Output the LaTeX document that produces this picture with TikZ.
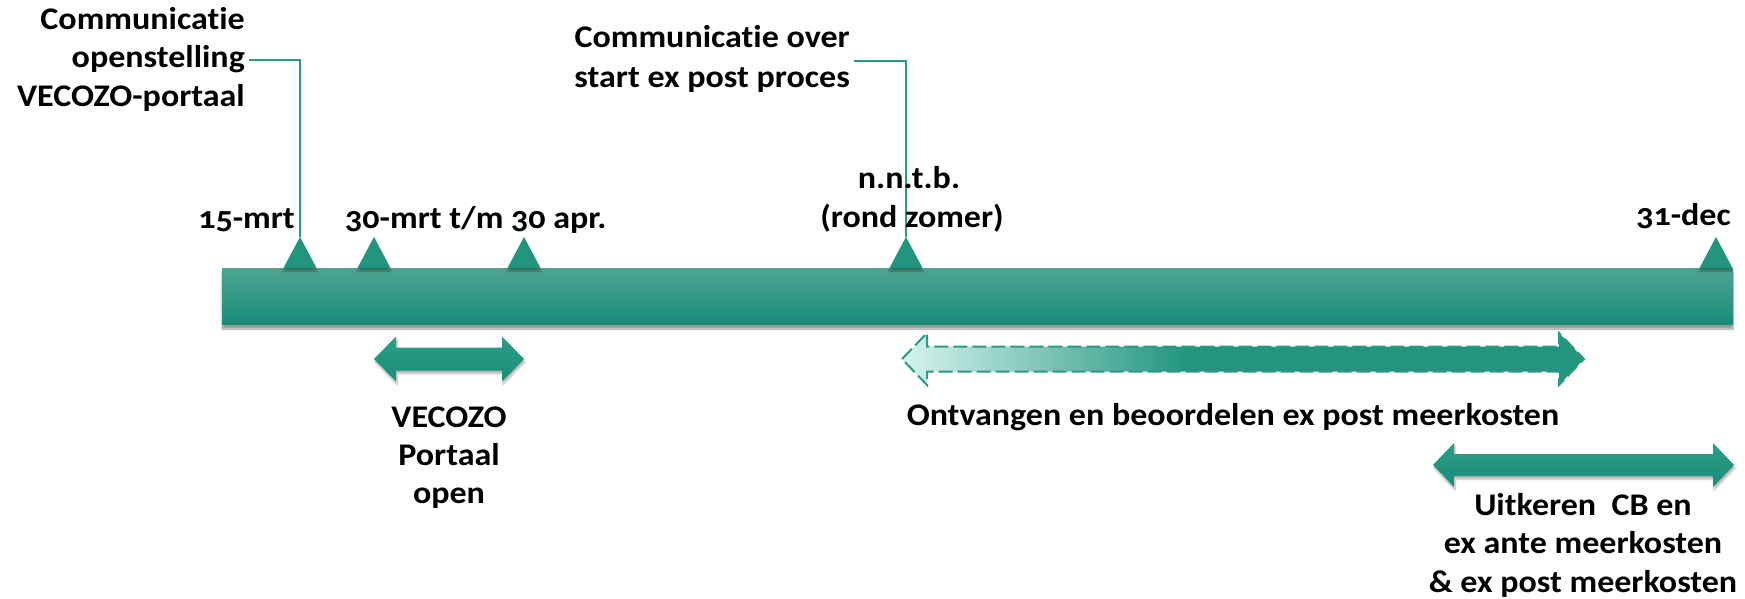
\documentclass[tikz,border=0pt]{standalone}
\usepackage{fontspec}
\setmainfont{Carlito}[Numbers=OldStyle, FakeStretch=1.08, Ligatures=NoCommon]
\usetikzlibrary{shadows.blur,calc}
\definecolor{tealmain}{HTML}{1A9682}
\definecolor{teallight}{HTML}{4FA493}
\definecolor{tealdark}{HTML}{178D79}
\definecolor{fadelight}{HTML}{D6F3EE}
\definecolor{arrowteal}{HTML}{22957F}
\definecolor{arrowtop}{HTML}{2B9D89}
\definecolor{arrowbot}{HTML}{1A8E7A}
\definecolor{linecol}{HTML}{2A9A86}
\pgfdeclarehorizontalshading{fadeR}{100bp}{color(0bp)=(fadelight); color(25bp)=(fadelight); color(46bp)=(arrowteal); color(100bp)=(arrowteal)}
\newcommand\mktri[2]{%
  \fill[tri] (#2-16.5,268) -- (#2,237) -- (#2+16.5,268) -- cycle;
  \coordinate (#1) at (#2,237);}
% #1 style, #2 x1, #3 x2, #4 yc, #5 half shaft, #6 half head, #7 head length
\newcommand\mkdblarrow[7]{%
  \path[#1] (#2,#4) -- ({#2+#7},{#4-#6}) -- ({#2+#7},{#4-#5}) -- ({#3-#7},{#4-#5})
    -- ({#3-#7},{#4-#6}) -- (#3,#4) -- ({#3-#7},{#4+#6}) -- ({#3-#7},{#4+#5})
    -- ({#2+#7},{#4+#5}) -- ({#2+#7},{#4+#6}) -- cycle;}
\begin{document}
\begin{tikzpicture}[x=1pt,y=-1pt,
  lbl/.style={font=\fontsize{31.5}{38}\selectfont\bfseries, inner sep=0pt, text=black},
  tri/.style={fill=arrowteal, blur shadow={shadow xshift=0pt, shadow yshift=-3pt, shadow opacity=35, shadow blur steps=4}},
  conn/.style={draw=linecol, line width=2pt},
  bar/.style={shade, top color=teallight, middle color=tealmain, bottom color=tealdark, inner sep=0pt, outer sep=0pt,
    blur shadow={shadow xshift=0pt, shadow yshift=-5pt, shadow opacity=40, shadow blur steps=6}},
  darrow/.style={shade, top color=arrowtop, bottom color=arrowbot,
    blur shadow={shadow xshift=1pt, shadow yshift=-3pt, shadow opacity=30, shadow blur steps=5}},
  dasharrow/.style={shading=fadeR,
    preaction={draw=white, line width=2pt},
    draw=linecol, dash pattern=on 14pt off 5pt, line width=2pt},
]
\useasboundingbox (0,0) rectangle (1745,599);

% main bar
\node[bar, minimum width=1511, minimum height=56, anchor=north west] (bar) at (222,268) {};

% markers
\mktri{t1}{300}
\mktri{t2}{374}
\mktri{t3}{524}
\mktri{t4}{906}
\mktri{t5}{1716}

% top labels
\node[lbl, anchor=base east] (c1a) at (245,30) {Communicatie};
\node[lbl, anchor=base east] (c1b) at (245,68) {openstelling};
\node[lbl, anchor=base east] (c1c) at (245,107) {VECOZO-portaal};
\coordinate (k1) at (249,60);
\draw[conn] (k1) -| (t1);

\node[lbl, anchor=base east] (c2a) at (850,48) {Communicatie over};
\node[lbl, anchor=base east] (c2b) at (850,88) {start ex post proces};
\coordinate (k2) at (854,61);
\draw[conn] (k2) -| (t4);

% date labels
\node[lbl, anchor=base east] (d1) at (295,228) {15-mrt};
\node[lbl, anchor=base west] (d2) at (345,228) {30-mrt t/m 30 apr.};
\node[lbl, anchor=base] (d3a) at (909,188) {n.n.t.b.};
\node[lbl, anchor=base] (d3b) at (912,227) {(rond zomer)};
\node[lbl, anchor=base east] (d4) at (1731,225) {31-dec};

% period arrows
\mkdblarrow{darrow}{374}{524}{359}{11.5}{22.5}{22}
\node[lbl, anchor=base] (a1a) at (449,427) {VECOZO};
\node[lbl, anchor=base] (a1b) at (449,465) {Portaal};
\node[lbl, anchor=base] (a1c) at (449,503) {open};

\mkdblarrow{dasharrow}{902}{1584}{359}{12.5}{26}{25}
\node[lbl, anchor=base] (a2a) at (1233,425) {Ontvangen en beoordelen ex post meerkosten};

\mkdblarrow{darrow}{1433}{1734}{465}{11}{22}{21}
\node[lbl, anchor=base] (a3a) at (1583,515) {Uitkeren\ \ CB en};
\node[lbl, anchor=base] (a3b) at (1583,553) {ex ante meerkosten};
\node[lbl, anchor=base] (a3c) at (1583,592) {\&\ ex post meerkosten};
\end{tikzpicture}
\end{document}
